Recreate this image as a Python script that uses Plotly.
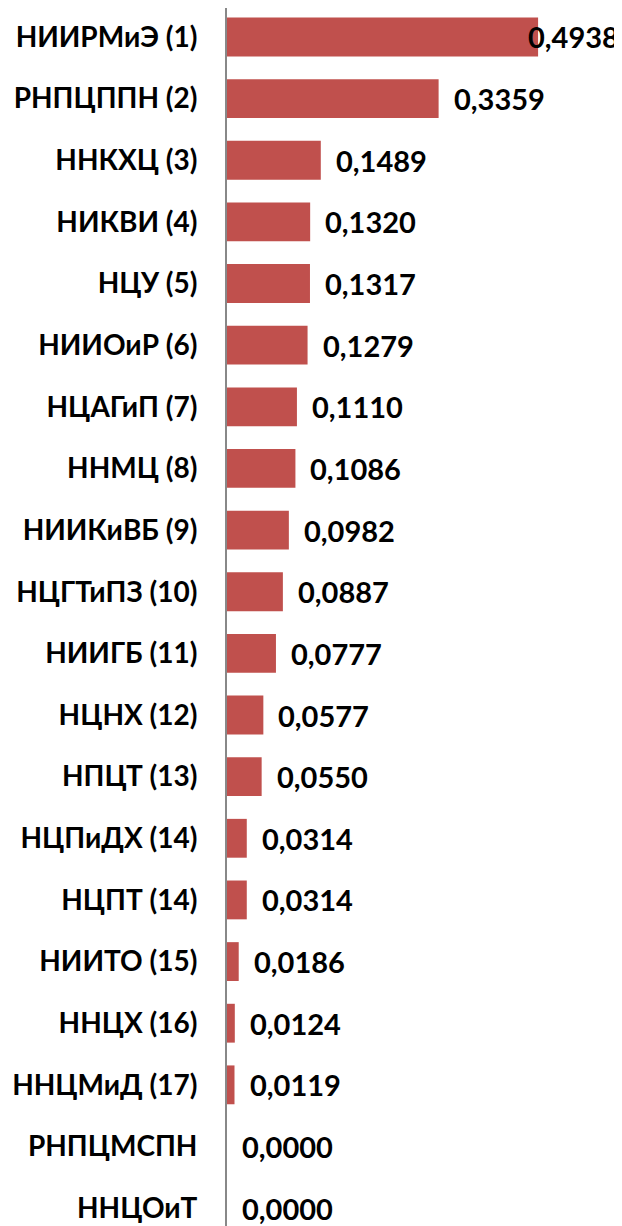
import plotly.graph_objects as go

categories = ["НИИРМиЭ (1)", "РНПЦППН (2)", "ННКХЦ (3)", "НИКВИ (4)", "НЦУ (5)",
              "НИИОиР (6)", "НЦАГиП (7)", "ННМЦ (8)", "НИИКиВБ (9)", "НЦГТиПЗ (10)",
              "НИИГБ (11)", "НЦНХ (12)", "НПЦТ (13)", "НЦПиДХ (14)", "НЦПТ (14)",
              "НИИТО (15)", "ННЦХ (16)", "ННЦМиД (17)", "РНПЦМСПН", "ННЦОиТ"]
values = [0.4938, 0.3359, 0.1489, 0.1320, 0.1317, 0.1279, 0.1110, 0.1086, 0.0982, 0.0887,
          0.0777, 0.0577, 0.0550, 0.0314, 0.0314, 0.0186, 0.0124, 0.0119, 0.0000, 0.0000]
value_labels = ["0,4938", "0,3359", "0,1489", "0,1320", "0,1317", "0,1279", "0,1110", "0,1086",
                "0,0982", "0,0887", "0,0777", "0,0577", "0,0550", "0,0314", "0,0314", "0,0186",
                "0,0124", "0,0119", "0,0000", "0,0000"]

FONT = "Lato"
# the page body adds an 8px offset, so the figure is slightly smaller than the window
W, H = 614, 1218
ML, MT = 219, 0
XMAX = 0.627
plot_w = W - ML
label_w = 92

fig = go.Figure(go.Bar(
    x=values, y=categories, orientation="h",
    marker=dict(color="#C0504D", line=dict(width=0)),
    hoverinfo="skip",
))

for cat, v, lab in zip(categories, values, value_labels):
    end_px = v / XMAX * plot_w + 16 + label_w
    if end_px > plot_w:
        fig.add_annotation(x=XMAX, y=cat, text=lab, showarrow=False,
                           xanchor="right", xshift=-1,
                           font=dict(family=FONT, size=29, color="black", weight="bold"))
    else:
        fig.add_annotation(x=v, y=cat, text=lab, showarrow=False, xanchor="left", xshift=13,
                           font=dict(family=FONT, size=29, color="black", weight="bold"))

fig.update_layout(
    width=W, height=H,
    margin=dict(l=ML, r=0, t=MT, b=0),
    plot_bgcolor="white", paper_bgcolor="white",
    bargap=0.37,
    showlegend=False,
    xaxis=dict(range=[0, XMAX], showgrid=False, showticklabels=False, zeroline=False,
               showline=False, ticks="", automargin=False),
    yaxis=dict(categoryorder="array", categoryarray=categories,
               range=[19.29, -0.47], showgrid=False, zeroline=False, automargin=False,
               showline=True, linecolor="#888888", linewidth=2, ticks="",
               ticklabelstandoff=22,
               tickfont=dict(family=FONT, size=28, color="black", weight="bold")),
)

fig.write_html("out.html")
